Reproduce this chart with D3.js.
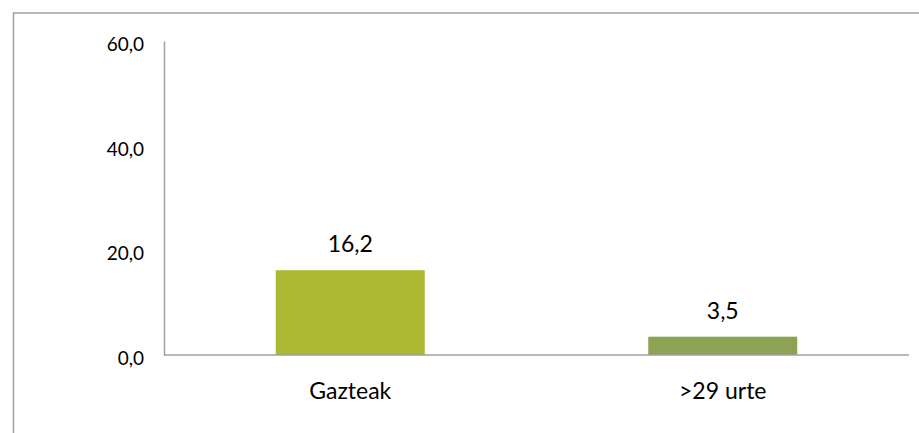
<!DOCTYPE html>
<html>
<head>
<meta charset="utf-8">
<script src="https://cdn.jsdelivr.net/npm/d3@7"></script>
<style>
  html, body { margin: 0; padding: 0; background: #fff; overflow: hidden; }
  svg { display: block; font-family: Lato, "Open Sans", sans-serif; }
</style>
</head>
<body>
<svg id="chart" width="919" height="433"></svg>
<script>
const categories = ["Gazteak", ">29 urte"];
const values = [16.2, 3.5];
const colors = ["#adb932", "#8ba352"];
const tickValues = [0, 20, 40, 60];

const svg = d3.select("#chart");
const W = 919, H = 433;
const fmt = v => d3.format(".1f")(v).replace(".", ",");

// outer chart border (extends beyond viewport on right/bottom)
svg.append("rect")
  .attr("x", 13.5).attr("y", 13)
  .attr("width", W + 20).attr("height", H + 20)
  .attr("fill", "none").attr("stroke", "#a0a0a0").attr("stroke-width", 1.5);

const plot = { left: 164, right: 909, top: 41, bottom: 355 };

const x = d3.scaleBand().domain(categories)
  .range([plot.left, plot.right]).paddingInner(0.6).paddingOuter(0.3);
const y = d3.scaleLinear().domain([0, 60]).range([plot.bottom, plot.top]);

// bars
svg.selectAll("rect.bar").data(values).join("rect")
  .attr("class", "bar")
  .attr("x", (d, i) => x(categories[i]))
  .attr("width", x.bandwidth())
  .attr("y", d => y(d))
  .attr("height", d => y(0) - y(d))
  .attr("fill", (d, i) => colors[i]);

// y axis
const yAxis = d3.axisLeft(y).tickValues(tickValues).tickFormat(fmt).tickSize(0).tickPadding(20);
const gy = svg.append("g").attr("transform", `translate(${plot.left},0)`).call(yAxis);
gy.select(".domain").attr("stroke", "#a0a0a0").attr("stroke-width", 1.5);
gy.selectAll("text").attr("font-family", "Lato, 'Open Sans', sans-serif")
  .attr("font-size", 19).attr("fill", "#000").attr("dy", "0.5em");

// x axis
const xAxis = d3.axisBottom(x).tickSize(0).tickPadding(28);
const gx = svg.append("g").attr("transform", `translate(0,${plot.bottom})`).call(xAxis);
gx.select(".domain").attr("stroke", "#a0a0a0").attr("stroke-width", 1.5)
  .attr("d", `M${plot.left},0H${plot.right}`);
gx.selectAll("text").attr("font-family", "Lato, 'Open Sans', sans-serif")
  .attr("font-size", 23).attr("fill", "#000").attr("dy", "0.71em");

// data labels
svg.selectAll("text.val").data(values).join("text")
  .attr("class", "val")
  .attr("x", (d, i) => x(categories[i]) + x.bandwidth() / 2)
  .attr("y", d => y(d) - 18)
  .attr("text-anchor", "middle")
  .attr("font-size", 23).attr("fill", "#000")
  .text(d => fmt(d));
</script>
</body>
</html>
